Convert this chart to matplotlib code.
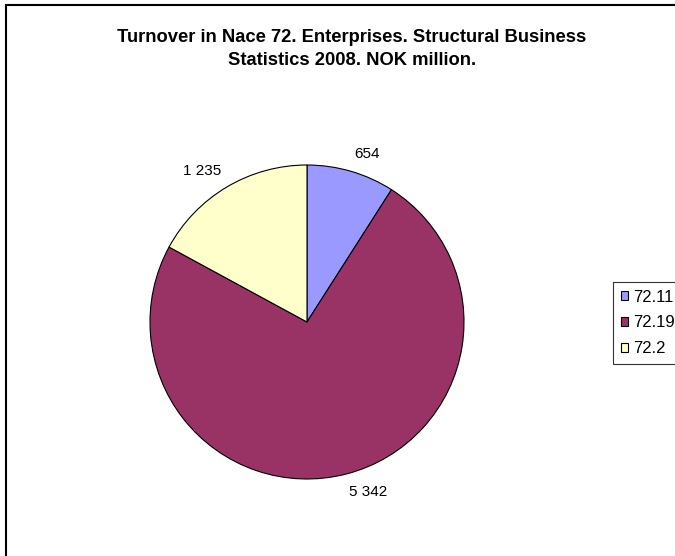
import matplotlib
matplotlib.use('Agg')
import numpy as np
import matplotlib.pyplot as plt
from matplotlib.patches import Rectangle

plt.rcParams['font.family'] = ['Liberation Sans', 'DejaVu Sans']

categories = ['72.11', '72.19', '72.2']
values = [654, 5342, 1235]
value_labels = ['654', '5 342', '1 235']
colors = ['#9999FF', '#993366', '#FFFFCC']

W, H = 675, 556
fig = plt.figure(figsize=(W / 100, H / 100), dpi=100)

# pie centre ~ (307, 322) px, radius ~157 px
cx, cy, r = 307, 322, 157
ax = fig.add_axes([(cx - r) / W, (H - cy - r) / H, 2 * r / W, 2 * r / H])
wedges, _ = ax.pie(values, colors=colors,
                   startangle=90, counterclock=False,
                   wedgeprops=dict(edgecolor='black', linewidth=0.8))

# data labels just outside the edge, excel style (box corner at mid-angle)
for w, lab in zip(wedges, value_labels):
    ang = np.deg2rad((w.theta1 + w.theta2) / 2)
    x, y = 1.07 * np.cos(ang), 1.07 * np.sin(ang)
    ax.text(x, y, lab, fontsize=11,
            ha='left' if x > 0 else 'right',
            va='bottom' if y > 0 else 'top')
ax.set_xlim(-1, 1)
ax.set_ylim(-1, 1)
ax.axis('off')

fig.text(352 / W, 1 - 49 / H,
         'Turnover in Nace 72. Enterprises. Structural Business\nStatistics 2008. NOK million.',
         ha='center', va='center', fontsize=13.2, fontweight='bold',
         linespacing=1.4)

leg = fig.legend(wedges, categories, loc='upper left',
                 bbox_to_anchor=(613 / W, 1 - 282 / H),
                 fontsize=12, frameon=True, fancybox=False,
                 edgecolor='black', handlelength=0.45, handleheight=0.45,
                 handletextpad=0.3, labelspacing=0.65, borderpad=0.45,
                 borderaxespad=0)
leg.get_frame().set_linewidth(0.8)

# outer chart border (right/bottom edges lie outside the image)
fig.patches.append(Rectangle((6 / W, -0.1), 1.2, 1 - 5 / H + 0.1,
                             transform=fig.transFigure, fill=False,
                             edgecolor='black', linewidth=1.5))

fig.savefig('out.png', dpi=100)
